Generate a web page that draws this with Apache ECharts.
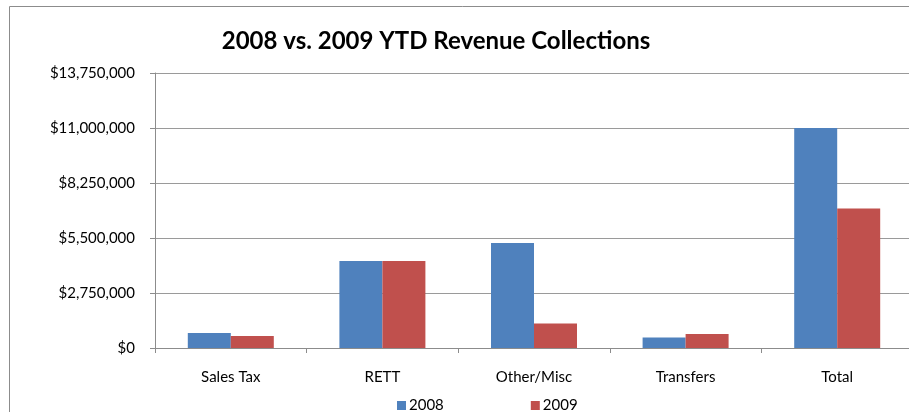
<!DOCTYPE html>
<html>
<head>
<meta charset="utf-8">
<script src="https://cdn.jsdelivr.net/npm/echarts@6/dist/echarts.min.js"></script>
<style>
  html, body { margin: 0; padding: 0; background: #fff; overflow: hidden; }
  #chart { width: 914px; height: 412px; }
</style>
</head>
<body>
<div id="chart"></div>
<script>
// Revenue collections, year to date, by source
const categories = ['Sales Tax', 'RETT', 'Other/Misc', 'Transfers', 'Total'];
const revenue2008 = [750000, 4350000, 5250000, 530000, 11000000];
const revenue2009 = [600000, 4350000, 1220000, 700000, 6980000];
const seriesNames = ['2008', '2009'];
const yTicks = [0, 2750000, 5500000, 8250000, 11000000, 13750000];

const FONT = 'Lato, "Open Sans", sans-serif';

function money(v) {
  return '$' + Math.round(v).toString().replace(/\B(?=(\d{3})+(?!\d))/g, ',');
}

const chart = echarts.init(document.getElementById('chart'));
chart.setOption({
  animation: false,
  backgroundColor: '#fff',
  title: {
    text: '2008 vs. 2009 YTD Revenue Collections',
    left: 431,
    textAlign: 'center',
    top: 24,
    textStyle: { fontFamily: FONT, fontWeight: 'bold', fontSize: 24, color: '#000' }
  },
  legend: {
    data: seriesNames,
    left: 392,
    top: 393,
    itemWidth: 9,
    itemHeight: 9,
    itemGap: 87,
    icon: 'rect',
    textStyle: { fontFamily: FONT, fontSize: 15, color: '#000', padding: [0, 0, 0, -2] }
  },
  graphic: [{
    type: 'rect',
    shape: { x: 9.5, y: 6.5, width: 1000, height: 500 },
    style: { fill: 'none', stroke: '#8c8c8c', lineWidth: 1 },
    silent: true,
    z: -1
  }],
  grid: { left: 155, top: 73, width: 758, height: 275, containLabel: false },
  xAxis: {
    type: 'category',
    data: categories,
    axisLine: { lineStyle: { color: '#8c8c8c', width: 1 } },
    axisTick: { show: true, length: 5, lineStyle: { color: '#8c8c8c' } },
    axisLabel: { fontFamily: FONT, fontSize: 15, color: '#000', margin: 22 }
  },
  yAxis: {
    type: 'value',
    min: 0,
    max: yTicks[yTicks.length - 1],
    interval: yTicks[1] - yTicks[0],
    axisLine: { show: true, lineStyle: { color: '#8c8c8c', width: 1 } },
    axisTick: { show: true, length: 5, lineStyle: { color: '#8c8c8c' } },
    splitLine: { lineStyle: { color: '#9a9a9a', width: 1 } },
    axisLabel: { fontFamily: FONT, fontSize: 15, color: '#000', margin: 20, formatter: money }
  },
  series: [
    {
      name: seriesNames[0],
      type: 'bar',
      data: revenue2008,
      barWidth: 43,
      barGap: '0%',
      itemStyle: { color: '#4F81BD' }
    },
    {
      name: seriesNames[1],
      type: 'bar',
      data: revenue2009,
      barWidth: 43,
      barGap: '0%',
      itemStyle: { color: '#C0504D' }
    }
  ]
});
</script>
</body>
</html>
